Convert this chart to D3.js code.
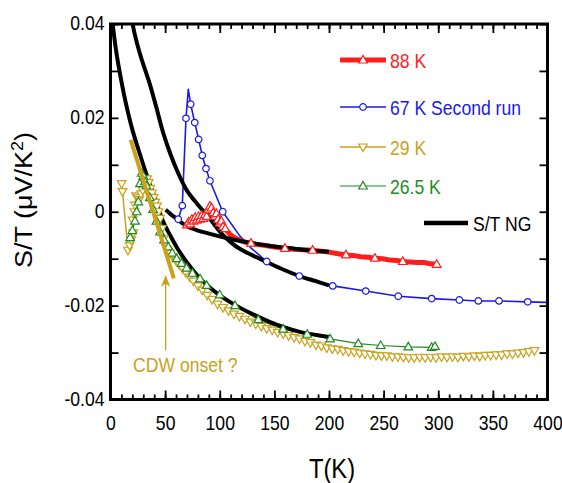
<!DOCTYPE html>
<html>
<head>
<meta charset="utf-8">
<script src="https://cdn.jsdelivr.net/npm/d3@7"></script>
<style>
  html, body { margin: 0; padding: 0; background: #fff; }
  svg { display: block; font-family: "Liberation Sans", Arial, Helvetica, sans-serif; }
</style>
</head>
<body>
<svg id="chart" width="562" height="483"></svg>
<script>
// ---- axis ticks -------------------------------------------------------
const xTicks = [0, 50, 100, 150, 200, 250, 300, 350, 400];
const xTickLabels = ["0", "50", "100", "150", "200", "250", "300", "350", "400"];
const xMinor = d3.range(0, 401, 10);
const yTicks = [-0.04, -0.03, -0.02, -0.01, 0, 0.01, 0.02, 0.03, 0.04];
const yTickLabels = ["-0.04", "", "-0.02", "", "0", "", "0.02", "", "0.04"];

// ---- S/T of the NG reference (three curves) --------------------------
const ngLow = [[1.5,0.0410],[5,0.0345],[9,0.0290],[14,0.0232],[20,0.0175],[27,0.0122],[34,0.0072],
  [41,0.0027],[48,-0.0020],[55,-0.0052],[62,-0.0081],[70,-0.0108],[80,-0.0137],[90,-0.0160],
  [100,-0.0178],[115,-0.0200],[130,-0.0218],[145,-0.0234],[160,-0.0247],[175,-0.0257],
  [190,-0.0263],[200,-0.0267]];
const ngMid = [[19.5,0.0410],[22,0.0380],[27,0.0336],[32,0.0300],[36,0.0272],[42,0.0222],
  [48,0.0170],[55,0.0122],[62,0.0082],[70,0.0045],[80,0.0015],[90,-0.0012],[103,-0.0050],
  [115,-0.0074],[130,-0.0093],[143,-0.0107],[158,-0.0123],[173,-0.0137],[188,-0.0148],[200,-0.0157]];
const ngHigh = [[50.5,0.0004],[55,-0.0005],[60,-0.0014],[65,-0.0023],[70,-0.0031],[80,-0.0040],
  [91,-0.0047],[106,-0.0056],[120,-0.0063],[135,-0.0069],[150,-0.0074],[165,-0.0078],
  [180,-0.0082],[200,-0.0085]];

// ---- 88 K ------------------------------------------------------------
const run88 = [[70.0,-0.0028],[71.5,-0.0022],[73.0,-0.0026],[74.5,-0.0016],[76.0,-0.0020],
  [77.5,-0.0012],[79.0,-0.0018],[80.5,-0.0010],[82.0,-0.0016],[83.5,-0.0008],[85.0,-0.0014],
  [86.5,-0.0006],[88.0,-0.0010],[89.5,0.0004],[91.0,0.0012],[92.5,0.0008],[94.0,-0.0002],
  [95.5,-0.0010],[97.0,-0.0004],[98.5,-0.0016],[100.0,-0.0024],[101.5,-0.0020],[103.0,-0.0032],
  [105.0,-0.0036],[107.0,-0.0042],[109.0,-0.0047],[112.0,-0.0053],[116.0,-0.0058],[120.0,-0.0062],
  [124.0,-0.0065],[128.6,-0.0067],[135,-0.0070],[142,-0.0072],[150,-0.0075],[159.7,-0.0078],
  [168,-0.0080],[176,-0.0081],[185,-0.0082],[193,-0.0084],[200,-0.0086],[207,-0.0089],
  [215.5,-0.0092],[222,-0.0093],[229,-0.0096],[236,-0.0097],[242,-0.0099],[249,-0.0100],
  [256,-0.0103],[262,-0.0104],[267.5,-0.0106],[274,-0.0107],[281,-0.0108],[287,-0.0108],
  [293,-0.0111],[298.6,-0.0112],[300.5,-0.0110]];
// temperatures of the 88 K points that carry a symbol
const run88Symbols = [70.0,71.5,73.0,74.5,76.0,77.5,79.0,80.5,82.0,83.5,85.0,86.5,88.0,89.5,91.0,
  92.5,94.0,95.5,97.0,98.5,100.0,101.5,103.0,105.0,128.6,159.7,185,215.5,242,267.5,298.6];

// ---- 67 K, second run -----------------------------------------------
const run67 = [[62.0,-0.0016],[65.7,0.0013],[69.1,0.0199],[71.2,0.0261],[73.4,0.0229],[77.1,0.0190],
  [80.7,0.0154],[84.0,0.0120],[87.4,0.0092],[91.0,0.0066],[102.7,0.0000],[118.5,-0.0052],
  [129.0,-0.0078],[143.0,-0.0106],[158.0,-0.0123],[172.8,-0.0137],[188.0,-0.0148],[203.4,-0.0158],
  [233.6,-0.0169],[263.4,-0.0180],[294.0,-0.0185],[319.3,-0.0188],[336.7,-0.0190],[355.6,-0.0190],
  [381.9,-0.0192],[399.0,-0.0193]];
// points of the 67 K run drawn without a symbol
const run67Plain = [71.2, 118.5, 129.0, 158.0, 188.0, 399.0];

// ---- 29 K ------------------------------------------------------------
const run29 = [[10.2,0.0060],[11.0,0.0043],[16.0,-0.0082],[17.5,-0.0072],[19.0,-0.0060],[20.8,-0.0045],
  [20.3,-0.0018],[21.8,0.0000],[22.4,0.0014],[23.3,0.0034],[25.0,0.0030],[26.4,0.0026],[28.0,0.0038],
  [29.5,0.0046],[31.6,0.0058],[33.5,0.0070],[35.0,0.0062],[36.5,0.0050],[38.0,0.0040],[39.5,0.0030],
  [41.0,0.0020],[42.5,0.0012],[44.0,0.0000],[45.5,-0.0014],[47.0,-0.0036],[48.5,-0.0058],
  [50.0,-0.0072],[52.0,-0.0080],[54.5,-0.0088],[57.0,-0.0096],[60.0,-0.0104],[63.0,-0.0113],
  [66.0,-0.0121],[69.0,-0.0130],[72.5,-0.0139],[76.0,-0.0148],[80.0,-0.0158],[84.0,-0.0167],
  [88.5,-0.0178],[93.0,-0.0187],[98.0,-0.0197],[103.0,-0.0204],[108.0,-0.0211],[113.0,-0.0218],
  [118.0,-0.0223],[123.0,-0.0229],[128.0,-0.0235],[133.0,-0.0239],[138.0,-0.0244],[143.0,-0.0249],
  [148.0,-0.0252],[153.0,-0.0257],[158.0,-0.0260],[163.0,-0.0264],[168.0,-0.0268],[173.0,-0.0271],
  [178.0,-0.0276],[183.0,-0.0279],[188.0,-0.0284],[193.0,-0.0286],[198.0,-0.0290],[203.0,-0.0292],
  [208.0,-0.0293],[213.0,-0.0296],[218.0,-0.0298],[223.0,-0.0299],[228.0,-0.0301],[233.0,-0.0303],
  [238.0,-0.0304],[243.0,-0.0306],[248.0,-0.0307],[253.0,-0.0307],[258.0,-0.0309],[263.0,-0.0309],
  [268.0,-0.0310],[273.0,-0.0311],[278.0,-0.0311],[283.0,-0.0310],[288.0,-0.0311],[293.0,-0.0310],
  [298.0,-0.0311],[303.0,-0.0309],[308.0,-0.0310],[313.0,-0.0309],[318.0,-0.0310],[323.0,-0.0308],
  [328.0,-0.0309],[333.0,-0.0307],[338.0,-0.0308],[343.0,-0.0306],[348.0,-0.0306],[353.0,-0.0305],
  [358.0,-0.0305],[363.0,-0.0303],[368.0,-0.0303],[373.0,-0.0301],[378.0,-0.0300],[383.0,-0.0298],
  [388.0,-0.0296]];

// ---- 26.5 K ----------------------------------------------------------
const run265 = [[18.0,-0.0055],[20.0,-0.0040],[22.4,-0.0020],[24.0,0.0000],[25.5,0.0021],[27.0,0.0060],
  [28.5,0.0082],[30.0,0.0076],[31.5,0.0064],[33.0,0.0055],[36.0,0.0030],[39.0,0.0005],[42.0,-0.0020],
  [45.3,-0.0043],[49.0,-0.0060],[52.9,-0.0075],[56.5,-0.0088],[60.6,-0.0100],[65.0,-0.0110],
  [69.7,-0.0120],[75.0,-0.0131],[82.0,-0.0143],[88.0,-0.0157],[100.0,-0.0177],[114.0,-0.0200],
  [135.3,-0.0230],[158.0,-0.0250],[180.0,-0.0261],[201.0,-0.0271],[226.8,-0.0281],[247.3,-0.0285],
  [272.6,-0.0288],[294.0,-0.0289],[297.0,-0.0287]];

// ---- CDW annotation --------------------------------------------------
const cdwSlope = [[18.5,0.0153],[58.0,-0.0142]];
const cdwArrow = [[50.5,-0.0295],[50.5,-0.0135]];
const cdwText = { t: 20.6, v: -0.0342, label: "CDW onset ?" };

// ---- legend ----------------------------------------------------------
const legendItems = [
  { label: "88 K", key: "r88" },
  { label: "67 K Second run", key: "r67" },
  { label: "29 K", key: "r29" },
  { label: "26.5 K", key: "r265" }
];
const ngLabel = "S/T NG";

// ---- styling ---------------------------------------------------------
const RED = "#ff1c1c", BLUE = "#1a1ae6", GOLD = "#c9a11c", GREEN = "#1e8c1e";
const SQ = 0.88;  // horizontal squeeze of the lettering
const styles = {
  r88:  { color: RED,   width: 5,   sym: "up" },
  r67:  { color: BLUE,  width: 1.6, sym: "circle" },
  r29:  { color: GOLD,  width: 1.5, sym: "down" },
  r265: { color: GREEN, width: 1.2, sym: "up" }
};

const svg = d3.select("#chart");
const W = 562, H = 483;
const x = d3.scaleLinear().domain([0, 400]).range([110.5, 547.5]);
const y = d3.scaleLinear().domain([-0.04, 0.04]).range([399.5, 24]);

function symbolPath(kind) {
  if (kind === "up") return "M0,-4.6L4.3,3L-4.3,3Z";
  if (kind === "down") return "M0,4.6L4.3,-3L-4.3,-3Z";
  return d3.symbol().type(d3.symbolCircle).size(34)();
}

function addText(parent, px, py, txt, o = {}) {
  const t = parent.append("text")
    .attr("transform", `translate(${px},${py}) scale(${SQ},1)` + (o.rotate ? ` rotate(${o.rotate})` : ""))
    .attr("text-anchor", o.anchor || "start")
    .attr("font-size", o.size || 20)
    .attr("fill", o.fill || "#000");
  if (txt !== null) t.text(txt);
  return t;
}

// clip for the data
svg.append("defs").append("clipPath").attr("id", "plotClip")
  .append("rect").attr("x", x(0)).attr("y", y(0.04))
  .attr("width", x(400) - x(0)).attr("height", y(-0.04) - y(0.04));

const plot = svg.append("g").attr("clip-path", "url(#plotClip)");
const line = d3.line().x(d => x(d[0])).y(d => y(d[1]));

// measured series: lines first
const seriesList = [
  { data: run29, st: styles.r29 },
  { data: run265, st: styles.r265 },
  { data: run67, st: styles.r67 },
  { data: run88, st: styles.r88 }
];
seriesList.forEach(s => {
  plot.append("path").datum(s.data).attr("d", line)
    .attr("fill", "none").attr("stroke", s.st.color)
    .attr("stroke-width", s.st.width).attr("stroke-linejoin", "round");
});

// NG reference curves
const smooth = d3.line().x(d => x(d[0])).y(d => y(d[1])).curve(d3.curveCatmullRom.alpha(0.5));
[ngLow, ngMid, ngHigh].forEach(c => {
  plot.append("path").datum(c).attr("d", smooth)
    .attr("fill", "none").attr("stroke", "#000").attr("stroke-width", 4)
    .attr("stroke-linecap", "butt");
});

// symbols
function drawSymbols(data, st) {
  plot.append("g").selectAll("path").data(data).join("path")
    .attr("d", symbolPath(st.sym))
    .attr("transform", d => `translate(${x(d[0])},${y(d[1])})`)
    .attr("fill", "#fff").attr("stroke", st.color).attr("stroke-width", 1.2);
}
drawSymbols(run29, styles.r29);
drawSymbols(run265, styles.r265);
drawSymbols(run67.filter(d => !run67Plain.includes(d[0])), styles.r67);
drawSymbols(run88.filter(d => run88Symbols.includes(d[0])), styles.r88);

// CDW onset marker
plot.append("path").datum(cdwSlope).attr("d", line)
  .attr("stroke", GOLD).attr("stroke-width", 4).attr("fill", "none");
const ax0 = x(cdwArrow[0][0]), ayB = y(cdwArrow[0][1]), ayT = y(cdwArrow[1][1]);
plot.append("line").attr("x1", ax0).attr("x2", ax0).attr("y1", ayB).attr("y2", ayT + 8)
  .attr("stroke", GOLD).attr("stroke-width", 1.3);
plot.append("path")
  .attr("d", `M${ax0},${ayT}L${ax0 + 4.7},${ayT + 12}L${ax0},${ayT + 8.5}L${ax0 - 4.7},${ayT + 12}Z`)
  .attr("fill", GOLD);
addText(svg, x(cdwText.t), y(cdwText.v), cdwText.label, { fill: GOLD, size: 20 });

// ---- axes ------------------------------------------------------------
function styleAxis(g) {
  g.attr("font-family", null).attr("font-size", null);
  g.select(".domain").remove();
  g.selectAll("line").attr("stroke", "#000").attr("stroke-width", 1.8);
}
const gB = svg.append("g").attr("transform", `translate(0,${y(-0.04)})`)
  .call(d3.axisBottom(x).tickValues(xTicks).tickSize(-9).tickFormat((d, i) => xTickLabels[i]));
styleAxis(gB);
gB.selectAll("text").attr("y", null).attr("dy", null)
  .attr("transform", `translate(0,30) scale(${SQ},1)`)
  .attr("font-size", 20).attr("fill", "#000");
svg.append("g").attr("transform", `translate(0,${y(-0.04)})`)
  .call(d3.axisBottom(x).tickValues(xMinor).tickSize(-5).tickFormat("")).call(styleAxis);
svg.append("g").attr("transform", `translate(0,${y(0.04)})`)
  .call(d3.axisTop(x).tickValues(xTicks).tickSize(-9).tickFormat("")).call(styleAxis);
svg.append("g").attr("transform", `translate(0,${y(0.04)})`)
  .call(d3.axisTop(x).tickValues(xMinor).tickSize(-5).tickFormat("")).call(styleAxis);

const gL = svg.append("g").attr("transform", `translate(${x(0)},0)`)
  .call(d3.axisLeft(y).tickValues(yTicks).tickSize(-8).tickFormat((d, i) => yTickLabels[i]));
styleAxis(gL);
gL.selectAll("text").attr("x", null).attr("dy", null)
  .attr("transform", `translate(-6,5.5) scale(${SQ},1)`)
  .attr("font-size", 20).attr("fill", "#000");
svg.append("g").attr("transform", `translate(${x(400)},0)`)
  .call(d3.axisRight(y).tickValues(yTicks).tickSize(-8).tickFormat("")).call(styleAxis);

// frame
svg.append("rect").attr("x", x(0)).attr("y", y(0.04))
  .attr("width", x(400) - x(0)).attr("height", y(-0.04) - y(0.04))
  .attr("fill", "none").attr("stroke", "#000").attr("stroke-width", 3);

// axis titles
addText(svg, 332, 478, "T(K)", { anchor: "middle", size: 27 });
const yt = addText(svg, 32, 200, null, { anchor: "middle", size: 27, rotate: -90 });
yt.append("tspan").text("S/T (\u03bcV/K");
yt.append("tspan").attr("dy", -10).attr("font-size", 18).text("2");
yt.append("tspan").attr("dy", 10).text(")");

// ---- legend ----------------------------------------------------------
const legendY = [60, 107, 147, 186];
const legend = svg.append("g");
legendItems.forEach((it, i) => {
  const st = styles[it.key];
  const ly = legendY[i];
  legend.append("line").attr("x1", 340).attr("x2", 386).attr("y1", ly).attr("y2", ly)
    .attr("stroke", st.color).attr("stroke-width", st.width);
  legend.append("path").attr("d", symbolPath(st.sym))
    .attr("transform", `translate(363,${ly})`)
    .attr("fill", "#fff").attr("stroke", st.color).attr("stroke-width", 1.2);
  addText(legend, 390, ly + 7.5, it.label, { fill: st.color, size: 20 });
});
legend.append("line").attr("x1", 424).attr("x2", 468).attr("y1", 223).attr("y2", 223)
  .attr("stroke", "#000").attr("stroke-width", 4.5);
addText(legend, 473, 230.5, ngLabel, { size: 20 });
</script>
</body>
</html>
